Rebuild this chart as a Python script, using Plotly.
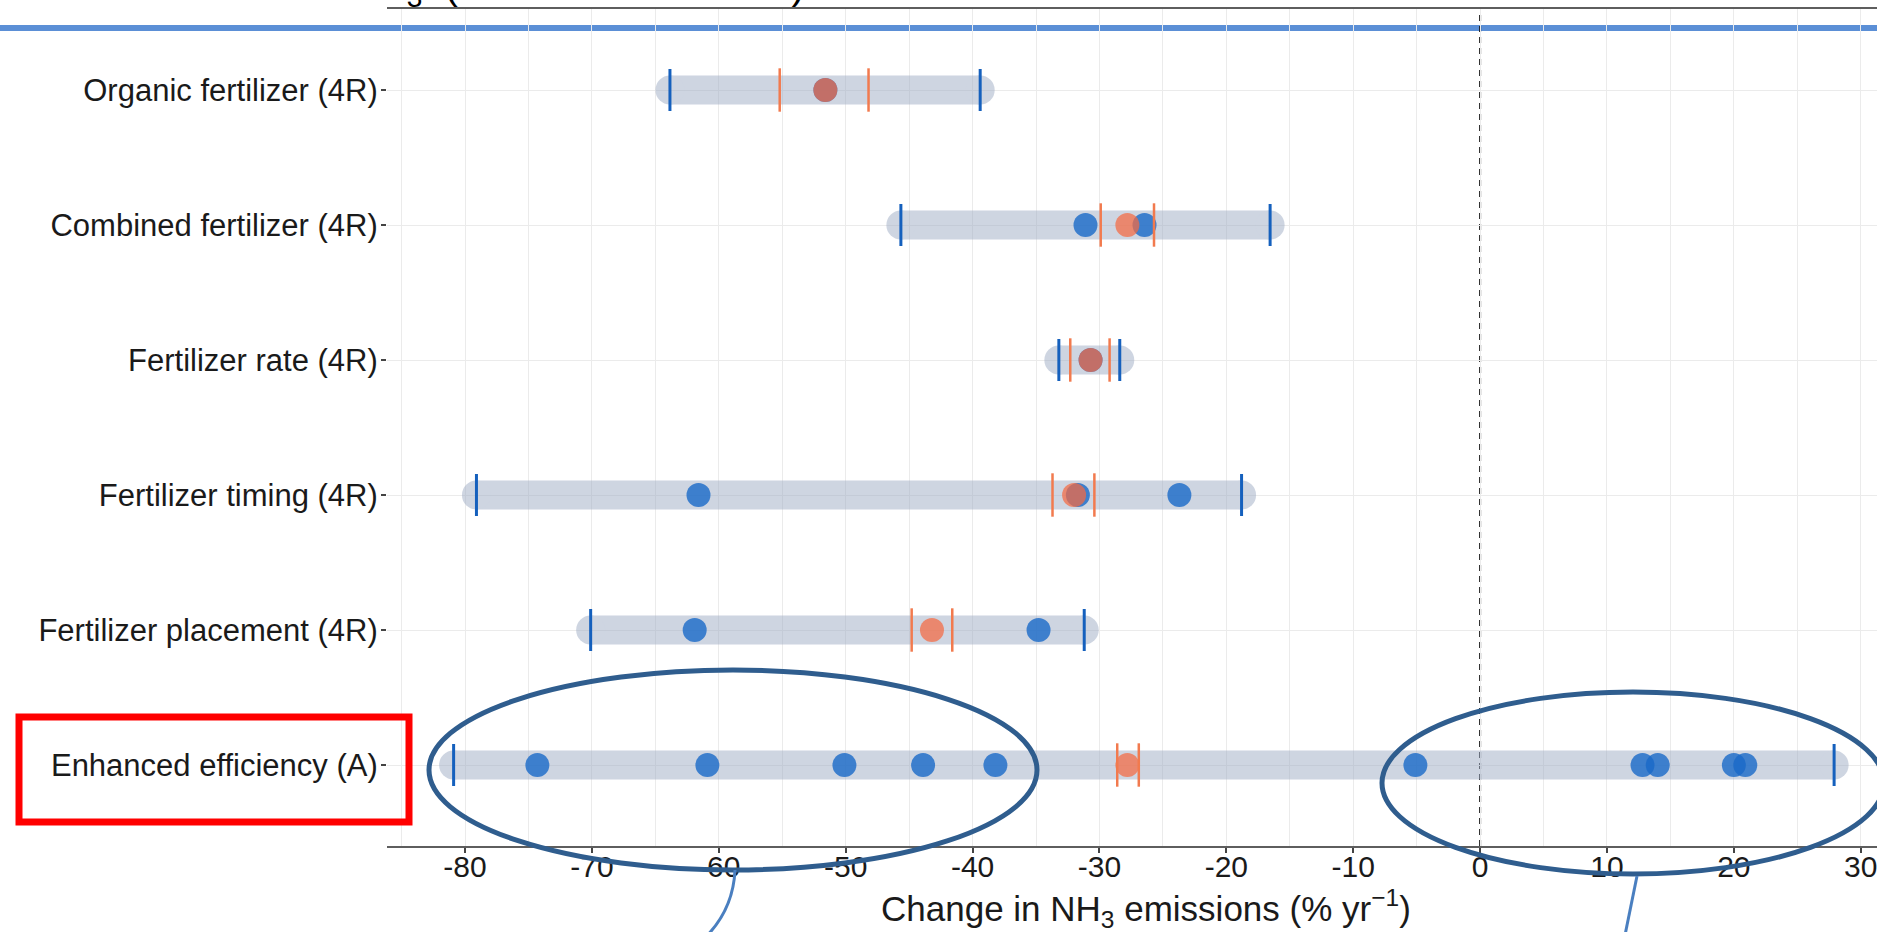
import plotly.graph_objects as go

# ---------------- data ----------------
categories = [
    "Organic fertilizer (4R)",
    "Combined fertilizer (4R)",
    "Fertilizer rate (4R)",
    "Fertilizer timing (4R)",
    "Fertilizer placement (4R)",
    "Enhanced efficiency (A)",
]
range_low = [-63.85, -45.65, -33.2, -79.1, -70.1, -80.9]
range_high = [-39.4, -16.55, -28.4, -18.8, -31.2, 27.9]
ci_low = [-55.2, -29.9, -32.3, -33.7, -44.8, -28.6]
ci_high = [-48.2, -25.7, -29.2, -30.4, -41.6, -26.9]
mean_change = [-51.6, -27.8, -30.7, -32.0, -43.2, -27.8]
study_values = [
    [-51.6],
    [-31.1, -26.45],
    [-30.7],
    [-61.6, -31.7, -23.7],
    [-61.9, -34.8],
    [-74.3, -60.9, -50.1, -43.9, -38.2, -5.1, 12.8, 14.0, 20.0, 20.9],
]
x_ticks = [-80, -70, -60, -50, -40, -30, -20, -10, 0, 10, 20, 30]
x_tick_labels = ["-80", "-70", "-60", "-50", "-40", "-30", "-20", "-10", "0", "10", "20", "30"]

# ---------------- layout geometry ----------------
W, H = 1877, 932
ML, MR, MT, MB = 387, 0, 9, 86
PW, PH = W - ML - MR, H - MT - MB
FONT = "Liberation Sans, Arial, Helvetica, sans-serif"


def px(x):
    return (x - ML) / PW


def py(y):
    return 1 - (y - MT) / PH


fig = go.Figure()

# capsules (range background)
cx, cy = [], []
for c, lo, hi in zip(categories, range_low, range_high):
    cx += [lo, hi, None]
    cy += [c, c, None]
fig.add_trace(go.Scatter(
    x=cx, y=cy, mode="lines+markers",
    line=dict(color="#9eacc5", width=29),
    marker=dict(color="#9eacc5", size=29, line=dict(width=0)),
    opacity=0.5, hoverinfo="skip", showlegend=False,
))

# individual study points
bx, by = [], []
for c, vals in zip(categories, study_values):
    bx += vals
    by += [c] * len(vals)
fig.add_trace(go.Scatter(
    x=bx, y=by, mode="markers",
    marker=dict(color="rgba(25,105,200,0.8)", size=24, line=dict(width=0)),
    showlegend=False,
))

# mean points
fig.add_trace(go.Scatter(
    x=mean_change, y=categories, mode="markers",
    marker=dict(color="rgba(245,105,65,0.72)", size=24, line=dict(width=0)),
    showlegend=False,
))

# CI ticks (orange)
fig.add_trace(go.Scatter(
    x=ci_low + ci_high, y=categories + categories, mode="markers",
    marker=dict(symbol="line-ns", size=31, line=dict(color="#f27a4e", width=2.5)),
    showlegend=False,
))

# range ticks (blue)
fig.add_trace(go.Scatter(
    x=range_low + range_high, y=categories + categories, mode="markers",
    marker=dict(symbol="line-ns", size=30, line=dict(color="#1560bd", width=3)),
    showlegend=False,
))

shapes = [
    # blue slide band
    dict(type="line", xref="paper", yref="paper", x0=px(0), x1=px(W), y0=py(28), y1=py(28),
         line=dict(color="#5b8fd6", width=6), layer="between"),
    # zero reference line
    dict(type="line", xref="x", yref="paper", x0=0, x1=0, y0=0, y1=py(14),
         line=dict(color="#1a1a1a", width=2, dash="6px,5px"), layer="between"),
    # highlight ellipses
    dict(type="circle", xref="paper", yref="paper", x0=px(429), x1=px(1037), y0=py(870), y1=py(670),
         line=dict(color="#2f5d8e", width=5), layer="above"),
    dict(type="circle", xref="paper", yref="paper", x0=px(1382), x1=px(1884), y0=py(874), y1=py(692),
         line=dict(color="#2f5d8e", width=5), layer="above"),
    # red box around label
    dict(type="rect", xref="paper", yref="paper", x0=px(19), x1=px(409), y0=py(822), y1=py(717),
         line=dict(color="#ff0000", width=7), layer="above"),
    # connectors
    dict(type="path", xref="paper", yref="paper",
         path=f"M {px(735)},{py(870)} Q {px(733)},{py(915)} {px(697)},{py(945)}",
         line=dict(color="#4a7fc0", width=3), layer="above"),
    dict(type="path", xref="paper", yref="paper",
         path=f"M {px(1637)},{py(876)} L {px(1623)},{py(945)}",
         line=dict(color="#4a7fc0", width=3), layer="above"),
]

annotations = [
    dict(text="Change in NH<sub>3</sub> emissions (% yr<sup>\u22121</sup>)", xref="paper", yref="paper",
         x=px(1146), y=py(908), xanchor="center", yanchor="middle", showarrow=False,
         font=dict(family=FONT, size=35, color="#1a1a1a")),
    dict(text="NH<sub>3</sub>\u00a0\u00a0(emission reduction)", xref="paper", yref="paper",
         x=px(347), y=py(-12), xanchor="left", yanchor="middle", showarrow=False,
         font=dict(family=FONT, size=40, color="#000000")),
]

fig.update_layout(
    width=W, height=H, autosize=False,
    margin=dict(l=ML, r=MR, t=MT, b=MB, pad=0),
    paper_bgcolor="white", plot_bgcolor="white",
    font=dict(family=FONT, color="#1a1a1a"),
    shapes=shapes, annotations=annotations,
    showlegend=False,
)
fig.update_xaxes(
    range=[-86.15, 31.28], tickmode="array", tickvals=x_ticks, ticktext=x_tick_labels,
    showgrid=True, gridcolor="#ebebeb", gridwidth=1,
    minor=dict(tickmode="array", tickvals=list(range(-85, 35, 10)), showgrid=True,
               gridcolor="#ebebeb", gridwidth=1, ticks=""),
    showline=True, linecolor="#5e5e5e", linewidth=2, mirror=True,
    ticks="outside", ticklen=5, tickwidth=1.5, tickcolor="#444",
    tickfont=dict(family=FONT, size=30, color="#1a1a1a"),
    ticklabelstandoff=-12, ticklabeloverflow="allow",
    zeroline=False, fixedrange=True,
)
fig.update_yaxes(
    type="category", categoryorder="array", categoryarray=categories,
    range=[5.6, -0.6],
    showgrid=True, gridcolor="#ebebeb", gridwidth=1,
    showline=False, zeroline=False,
    ticks="outside", ticklen=5, tickwidth=1.5, tickcolor="#444",
    tickfont=dict(family=FONT, size=31, color="#1a1a1a"),
    ticklabelstandoff=-3,
    fixedrange=True,
)

fig.write_html(
    "out.html",
    config={"displayModeBar": False},
    post_script="document.body.style.margin='0';document.body.style.overflow='hidden';",
)
